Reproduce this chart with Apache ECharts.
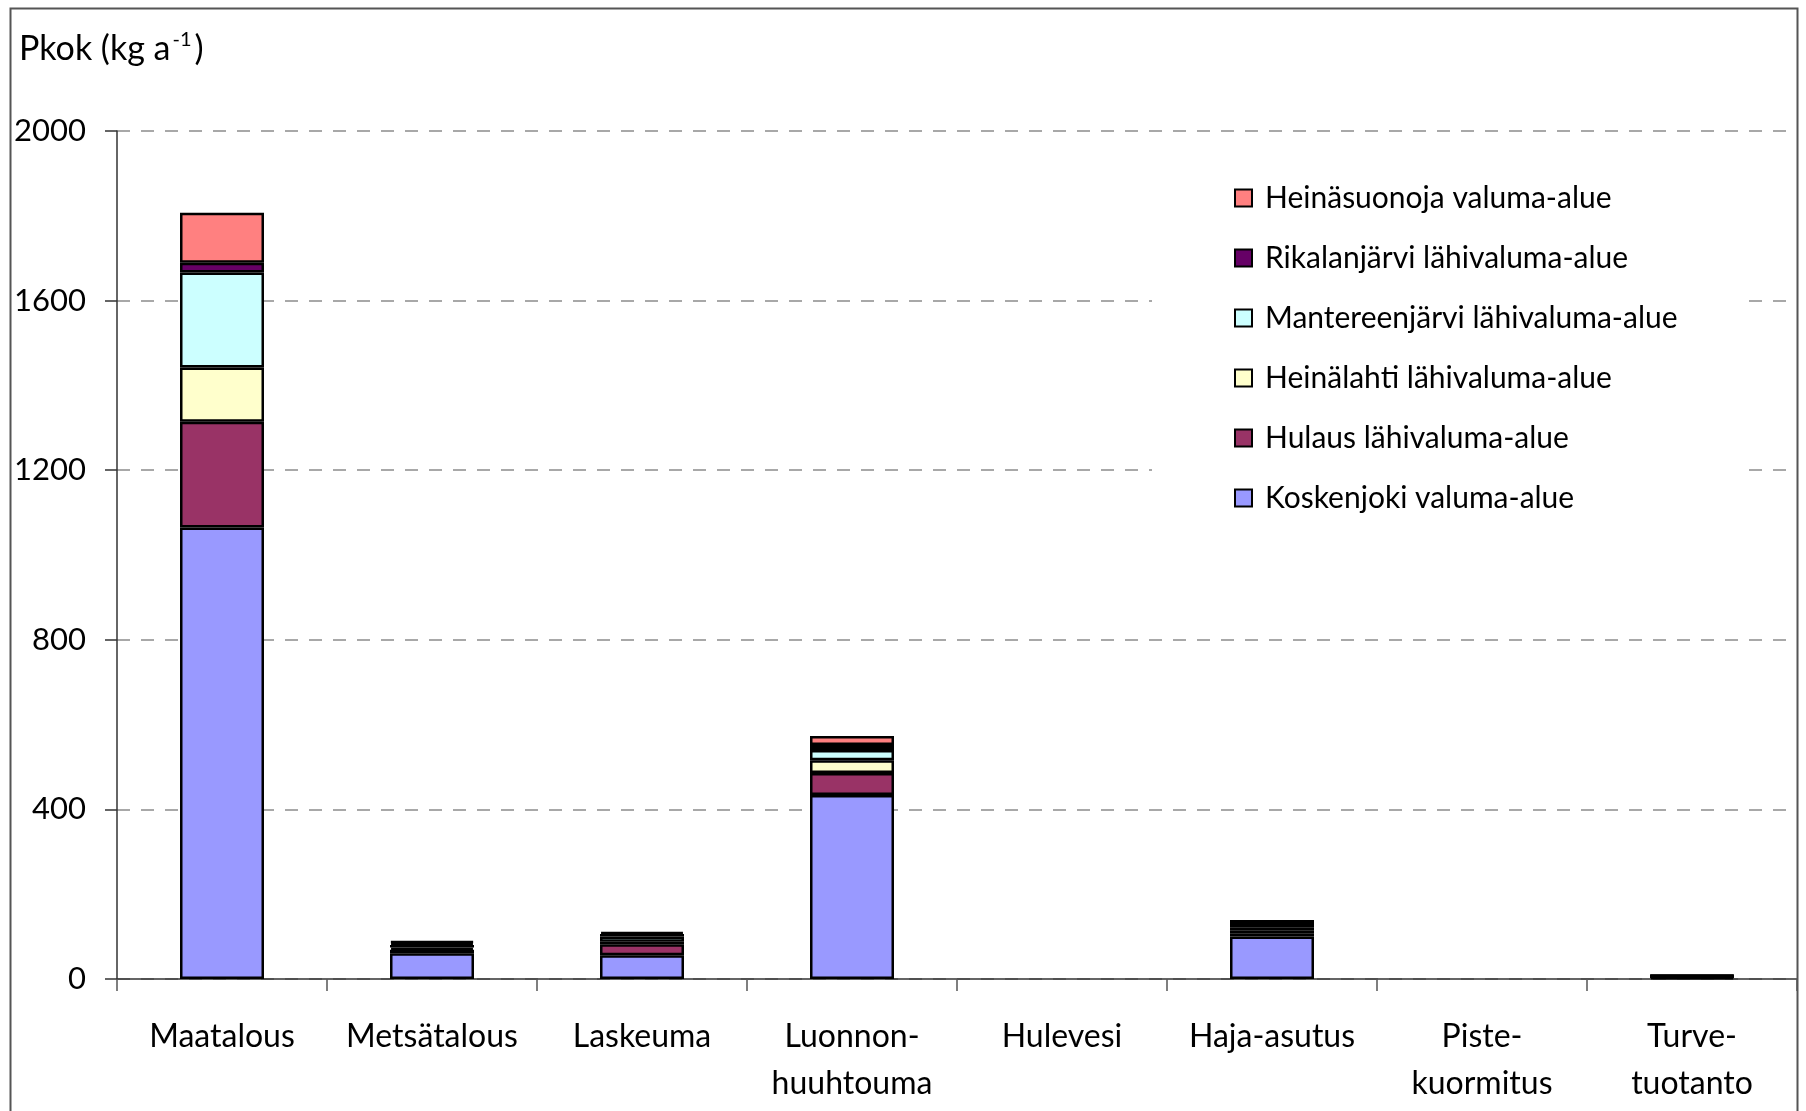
<!DOCTYPE html>
<html>
<head>
<meta charset="utf-8">
<script src="https://cdn.jsdelivr.net/npm/echarts@6/dist/echarts.min.js"></script>
<style>
  html, body { margin: 0; padding: 0; background: #fff; }
  #chart { width: 1806px; height: 1111px; }
</style>
</head>
<body>
<div id="chart"></div>
<script>
// Kokonaisfosforikuormitus (kg/a) lähteittäin ja osavaluma-alueittain
const categories = ['Maatalous', 'Metsätalous', 'Laskeuma', 'Luonnon-\nhuuhtouma', 'Hulevesi', 'Haja-asutus', 'Piste-\nkuormitus', 'Turve-\ntuotanto'];

const koskenjoki     = [1065, 61, 56, 434, 0, 100, 0, 4];
const hulaus         = [249, 8, 26, 52, 0, 8, 0, 1];
const heinalahti     = [128, 5, 6, 30, 0, 7, 0, 1];
const mantereenjarvi = [224, 6, 12, 24, 0, 7, 0, 1];
const rikalanjarvi   = [23, 5, 6, 12, 0, 10, 0, 1];
const heinasuonoja   = [118, 4, 5, 21, 0, 7, 0, 1];

const yTicks = [0, 400, 800, 1200, 1600, 2000];

const seriesDefs = [
  { name: 'Koskenjoki valuma-alue',          data: koskenjoki,     color: '#9999FF' },
  { name: 'Hulaus lähivaluma-alue',          data: hulaus,         color: '#993366' },
  { name: 'Heinälahti lähivaluma-alue',      data: heinalahti,     color: '#FFFFCC' },
  { name: 'Mantereenjärvi lähivaluma-alue',  data: mantereenjarvi, color: '#CCFFFF' },
  { name: 'Rikalanjärvi lähivaluma-alue',    data: rikalanjarvi,   color: '#660066' },
  { name: 'Heinäsuonoja valuma-alue',        data: heinasuonoja,   color: '#FF8080' }
];

const FONT = 'Lato, "Open Sans", sans-serif';

const chart = echarts.init(document.getElementById('chart'), null, { renderer: 'canvas' });

chart.setOption({
  animation: false,
  backgroundColor: '#fff',
  textStyle: { fontFamily: FONT, color: '#000' },
  grid: { left: 117, right: 9, top: 131, bottom: 132, containLabel: false },
  title: {
    text: 'Pkok (kg a{sup|-1})',
    left: 14,
    top: 25,
    textStyle: {
      fontFamily: FONT, fontSize: 34, fontWeight: 'normal', color: '#000', lineHeight: 38,
      rich: {
        sup: { fontFamily: FONT, fontSize: 20, verticalAlign: 'top', lineHeight: 22, color: '#000', padding: [0, 3, 0, 2] }
      }
    }
  },
  legend: {
    data: seriesDefs.map(s => s.name).reverse(),
    orient: 'vertical',
    left: 1229,
    top: 178,
    itemWidth: 17,
    itemHeight: 17,
    itemGap: 30,
    icon: 'rect',
    z: 4,
    textStyle: { fontFamily: FONT, fontSize: 30, color: '#000', lineHeight: 30, padding: [0, 0, 0, 8] },
    itemStyle: { borderColor: '#000', borderWidth: 2 }
  },
  graphic: [
    {
      type: 'rect',
      z: 1,
      shape: { x: 1152, y: 142, width: 593, height: 380 },
      style: { fill: '#fff' },
      silent: true
    },
    {
      type: 'rect',
      z: 10,
      shape: { x: 10.5, y: 8.5, width: 1787, height: 1200 },
      style: { fill: null, stroke: '#555', lineWidth: 2 },
      silent: true
    }
  ],
  xAxis: {
    type: 'category',
    data: categories,
    boundaryGap: true,
    axisLine: { show: true, lineStyle: { color: '#333', width: 1.5 } },
    axisTick: { show: true, length: 12, inside: false, lineStyle: { color: '#555', width: 1.5 } },
    axisLabel: {
      interval: 0, margin: 34, fontFamily: FONT, fontSize: 32, lineHeight: 47, color: '#000'
    },
    splitLine: { show: false }
  },
  yAxis: {
    type: 'value',
    min: yTicks[0],
    max: yTicks[yTicks.length - 1],
    interval: 400,
    z: 0,
    axisLine: { show: true, lineStyle: { color: '#333', width: 1.5 } },
    axisTick: { show: true, length: 12, inside: false, lineStyle: { color: '#333', width: 1.5 } },
    axisLabel: { margin: 31, fontFamily: FONT, fontSize: 31, color: '#000', formatter: v => String(v) },
    splitLine: { show: true, lineStyle: { color: '#a8a8a8', width: 2, type: [13, 11] } }
  },
  series: seriesDefs.map(s => ({
    name: s.name,
    type: 'bar',
    stack: 'total',
    barWidth: '40%',
    z: 2,
    itemStyle: { color: s.color, borderColor: '#000', borderWidth: 2.5 },
    emphasis: { disabled: true },
    data: s.data.map(v => (v === 0 ? '-' : v))
  }))
});
</script>
</body>
</html>
